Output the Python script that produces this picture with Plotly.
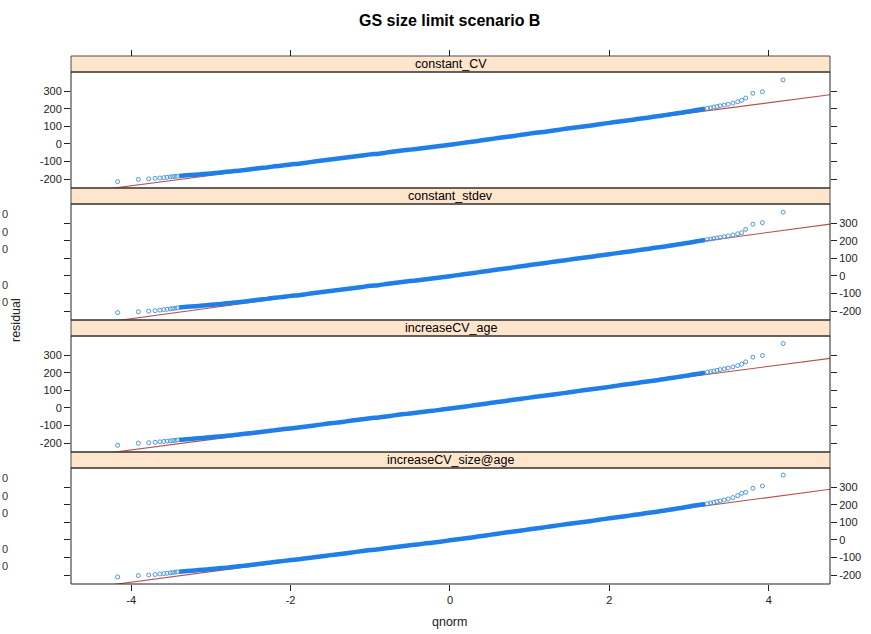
import plotly.graph_objects as go

# ---------------- data ----------------
panel_names = ["constant_CV", "constant_stdev", "increaseCV_age", "increaseCV_size@age"]

# theoretical normal quantiles of the dense central part of each panel
q_dense = [-3.4, -3.3, -3.2, -3.1, -3.0, -2.9, -2.8, -2.7, -2.6, -2.5,
           -2.4, -2.3, -2.2, -2.1, -2.0, -1.9, -1.8, -1.7, -1.6, -1.5,
           -1.4, -1.3, -1.2, -1.1, -1.0, -0.9, -0.8, -0.7, -0.6, -0.5,
           -0.4, -0.3, -0.2, -0.1, 0.0, 0.1, 0.2, 0.3, 0.4, 0.5,
           0.6, 0.7, 0.8, 0.9, 1.0, 1.1, 1.2, 1.3, 1.4, 1.5,
           1.6, 1.7, 1.8, 1.9, 2.0, 2.1, 2.2, 2.3, 2.4, 2.5,
           2.6, 2.7, 2.8, 2.9, 3.0, 3.1, 3.2]
# theoretical quantiles of the sparse tail points
q_left = [-4.17, -3.91, -3.78, -3.70, -3.64, -3.59, -3.55, -3.51, -3.48, -3.45, -3.42]
q_right = [3.23, 3.27, 3.31, 3.35, 3.39, 3.44, 3.49, 3.55, 3.61, 3.66, 3.71, 3.80, 3.92, 4.18]

res_dense_constant_CV = [-182, -178, -175, -171, -167, -163, -158, -154, -149, -144,
                         -138, -133, -127, -122, -116, -112, -106, -100, -94, -88,
                         -83, -77, -71, -65, -59, -55, -49, -43, -37, -32,
                         -27, -21, -16, -10, -4, 2, 8, 14, 21, 27,
                         34, 40, 46, 52, 59, 65, 70, 77, 83, 89,
                         95, 101, 107, 114, 120, 126, 132, 138, 145, 151,
                         158, 164, 171, 178, 185, 193, 200]
res_left_constant_CV = [-214, -201, -198, -195, -193, -191, -189, -187, -186, -184, -183]
res_right_constant_CV = [203, 206, 210, 213, 217, 221, 226, 232, 240, 248, 261, 288, 297, 364]

res_dense_constant_stdev = [-179, -175, -172, -168, -164, -160, -155, -151, -146, -141,
                            -135, -130, -124, -119, -113, -109, -103, -97, -91, -85,
                            -80, -74, -68, -62, -56, -52, -46, -40, -34, -29,
                            -24, -18, -13, -7, -1, 5, 11, 17, 24, 30,
                            37, 43, 49, 55, 62, 68, 74, 81, 87, 93,
                            99, 105, 111, 118, 124, 130, 136, 142, 149, 155,
                            162, 168, 175, 182, 189, 197, 204]
res_left_constant_stdev = [-208, -203, -200, -197, -194, -191, -189, -187, -185, -183, -181]
res_right_constant_stdev = [207, 210, 213, 216, 219, 223, 228, 233, 240, 246, 265, 294, 303, 362]

res_dense_increaseCV_age = [-181, -177, -174, -170, -166, -162, -158, -153, -148, -143,
                            -138, -132, -127, -121, -116, -111, -105, -99, -93, -87,
                            -82, -76, -70, -64, -58, -54, -48, -42, -36, -31,
                            -26, -20, -15, -9, -3, 3, 9, 15, 21, 28,
                            34, 40, 47, 53, 59, 65, 71, 77, 83, 89,
                            96, 102, 108, 114, 120, 127, 133, 139, 146, 152,
                            158, 165, 172, 179, 186, 194, 201]
res_left_increaseCV_age = [-212, -200, -197, -195, -192, -190, -188, -187, -185, -184, -182]
res_right_increaseCV_age = [204, 207, 210, 214, 218, 222, 227, 233, 241, 249, 262, 289, 298, 366]

res_dense_increaseCV_sizeage = [-180, -176, -173, -169, -165, -161, -157, -152, -147, -142,
                                -136, -131, -125, -120, -114, -110, -104, -98, -92, -86,
                                -81, -75, -69, -63, -57, -53, -47, -41, -35, -30,
                                -25, -19, -14, -8, -2, 4, 10, 16, 23, 29,
                                36, 42, 48, 54, 61, 67, 73, 80, 86, 92,
                                98, 104, 110, 117, 123, 129, 135, 142, 148, 155,
                                161, 168, 175, 182, 190, 198, 205]
res_left_increaseCV_sizeage = [-210, -202, -199, -196, -193, -191, -189, -187, -185, -183, -181]
res_right_increaseCV_sizeage = [206, 210, 214, 218, 222, 227, 233, 241, 252, 265, 271, 294, 307, 369]

# reference (qq) line of each panel: intercept and slope
line_intercepts = [-1.4, 2.6, -1.0, 1.0]
line_slopes = [59.0, 61.3, 59.3, 60.2]

y_tick_vals = [-200, -100, 0, 100, 200, 300]
y_tick_text = ["-200", "-100", "0", "100", "200", "300"]
x_tick_vals = [-4, -2, 0, 2, 4]
x_tick_text = ["-4", "-2", "0", "2", "4"]

dense_sets = [res_dense_constant_CV, res_dense_constant_stdev,
              res_dense_increaseCV_age, res_dense_increaseCV_sizeage]
left_sets = [res_left_constant_CV, res_left_constant_stdev,
             res_left_increaseCV_age, res_left_increaseCV_sizeage]
right_sets = [res_right_constant_CV, res_right_constant_stdev,
              res_right_increaseCV_age, res_right_increaseCV_sizeage]

# ---------------- layout geometry (pixels) ----------------
W, H = 871, 634
X0, X1 = 71, 830
TOP0 = 56
STRIP_H = 16
PANEL_H = 116
X_RANGE = [-4.755, 4.768]
Y_RANGE = [-250, 409]

FONT = "Liberation Sans, Arial, sans-serif"
BLUE = "#1f7fe6"
TAIL_BLUE = "#4d97da"
RED = "#b5514f"


def py(px):
    return 1 - px / H


def px_x(px):
    return px / W


fig = go.Figure()
shapes = []
annotations = []
layout_axes = {}

for i in range(4):
    strip_top = TOP0 + i * (STRIP_H + PANEL_H)
    panel_top = strip_top + STRIP_H
    panel_bot = panel_top + PANEL_H
    xa = "x" if i == 0 else f"x{i+1}"
    ya = "y" if i == 0 else f"y{i+1}"
    xkey = "xaxis" if i == 0 else f"xaxis{i+1}"
    ykey = "yaxis" if i == 0 else f"yaxis{i+1}"

    # qq reference line (drawn first, under the points)
    lx = [X_RANGE[0] - 0.5, X_RANGE[1] + 0.5]
    ly = [line_intercepts[i] + line_slopes[i] * v for v in lx]
    fig.add_trace(go.Scatter(x=lx, y=ly, mode="lines",
                             line=dict(color=RED, width=1.1),
                             xaxis=xa, yaxis=ya, showlegend=False, hoverinfo="skip"))
    # dense central band of points
    fig.add_trace(go.Scatter(x=q_dense, y=dense_sets[i], mode="lines",
                             line=dict(color=BLUE, width=4.5, shape="spline", smoothing=0.6),
                             xaxis=xa, yaxis=ya, showlegend=False))
    # sparse tail points
    fig.add_trace(go.Scatter(x=q_left + q_right, y=left_sets[i] + right_sets[i],
                             mode="markers",
                             marker=dict(symbol="circle-open", size=4,
                                         color=TAIL_BLUE, line=dict(width=1)),
                             xaxis=xa, yaxis=ya, showlegend=False))

    xaxis = dict(domain=[px_x(X0), px_x(X1)], range=X_RANGE,
                 showgrid=False, zeroline=False, showline=False,
                 tickvals=x_tick_vals, ticktext=x_tick_text,
                 tickfont=dict(family=FONT, size=11, color="#222"))
    if i == 0:
        xaxis.update(anchor="free", position=py(TOP0), side="top",
                     ticks="outside", ticklen=6, tickcolor="#222",
                     showticklabels=False)
    elif i == 3:
        xaxis.update(anchor=ya, side="bottom", ticks="outside", ticklen=6,
                     tickcolor="#222", showticklabels=True, matches="x")
    else:
        xaxis.update(anchor=ya, ticks="", showticklabels=False, matches="x")
    layout_axes[xkey] = xaxis

    layout_axes[ykey] = dict(domain=[py(panel_bot), py(panel_top)], range=Y_RANGE,
                             anchor=xa, side="left" if i % 2 == 0 else "right",
                             mirror="ticks", ticks="outside", ticklen=6,
                             tickcolor="#222", showgrid=False, zeroline=False,
                             showline=False, tickvals=y_tick_vals, ticktext=y_tick_text,
                             tickfont=dict(family=FONT, size=11, color="#222"))

    # strip
    shapes.append(dict(type="rect", xref="paper", yref="paper",
                       x0=px_x(X0), x1=px_x(X1), y0=py(panel_top), y1=py(strip_top),
                       fillcolor="#FFE5CC", line=dict(color="#4d4d4d", width=1),
                       layer="below"))
    # panel border
    shapes.append(dict(type="rect", xref="paper", yref="paper",
                       x0=px_x(X0), x1=px_x(X1), y0=py(panel_bot), y1=py(panel_top),
                       fillcolor="rgba(0,0,0,0)", line=dict(color="#222", width=1),
                       layer="above"))
    annotations.append(dict(text=panel_names[i], xref="paper", yref="paper",
                            x=px_x((X0 + X1) / 2), y=py(strip_top + STRIP_H / 2),
                            xanchor="center", yanchor="middle", showarrow=False,
                            font=dict(family=FONT, size=12.5, color="#000")))

    # label fragments visible at the far left edge (panels 2 and 4)
    if i % 2 == 1:
        for v in [300, 200, 100, -100, -200]:
            ypx = panel_top + (Y_RANGE[1] - v) / (Y_RANGE[1] - Y_RANGE[0]) * PANEL_H - 9
            annotations.append(dict(text="0", xref="paper", yref="paper",
                                    x=0, y=py(ypx), xanchor="left", xshift=0,
                                    yanchor="middle", showarrow=False,
                                    font=dict(family=FONT, size=11, color="#333")))

annotations.append(dict(text="<b>GS size limit scenario B</b>", xref="paper", yref="paper",
                        x=px_x(450), y=py(20), xanchor="center", yanchor="middle",
                        showarrow=False, font=dict(family=FONT, size=16, color="#000")))
annotations.append(dict(text="residual", xref="paper", yref="paper",
                        x=px_x(16), y=py(320), xanchor="center", yanchor="middle",
                        textangle=-90, showarrow=False,
                        font=dict(family=FONT, size=12.5, color="#222")))
annotations.append(dict(text="qnorm", xref="paper", yref="paper",
                        x=px_x(450), y=py(622), xanchor="center", yanchor="middle",
                        showarrow=False, font=dict(family=FONT, size=12.5, color="#222")))

fig.update_layout(width=W, height=H, margin=dict(l=0, r=0, t=0, b=0),
                  paper_bgcolor="white", plot_bgcolor="white",
                  shapes=shapes, annotations=annotations, showlegend=False,
                  **layout_axes)

fig.write_html("out.html", config={"displayModeBar": False},
               post_script="document.body.style.margin='0';document.body.style.overflow='hidden';")
